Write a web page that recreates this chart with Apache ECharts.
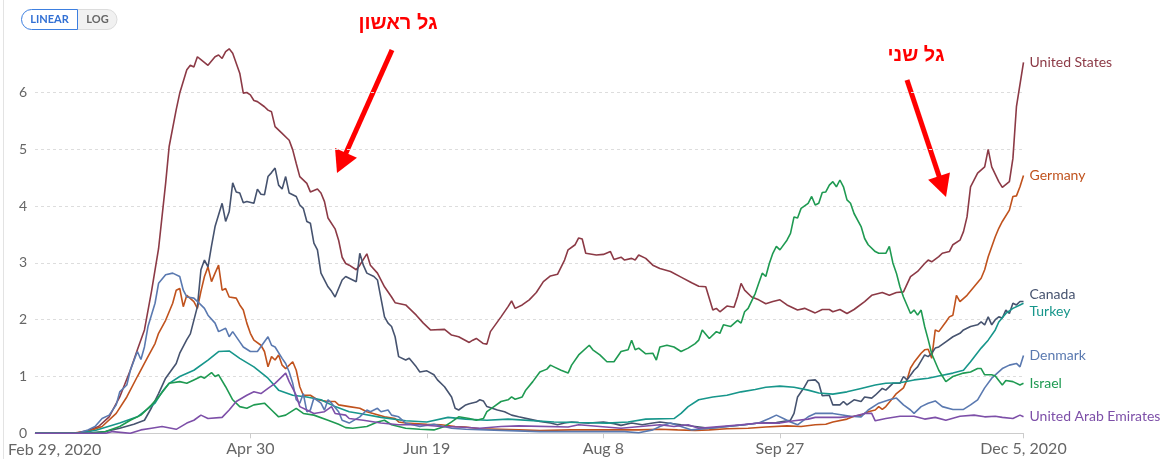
<!DOCTYPE html>
<html><head><meta charset="utf-8">
<script src="https://cdn.jsdelivr.net/npm/echarts@6/dist/echarts.min.js"></script>
<style>html,body{margin:0;padding:0;background:#fff}#c{width:1168px;height:459px}</style>
</head><body><div id="c"></div>
<script>
// ---- data (daily new deaths per million, 7-day avg), dates as MM-DD in 2020 ----
const countryNames = ['United States','Germany','Canada','Turkey','Denmark','Israel','United Arab Emirates'];
const countryColors = ['#8C3A46','#C0521D','#46536F','#17968B','#5A79B0','#1F9A52','#7D4FA8'];

const unitedStates = [['02-29',0],['03-10',0],['03-12',0.01],['03-15',0.05],['03-18',0.12],['03-21',0.29],['03-24',0.64],['03-27',1.11],['03-29',1.47],['03-31',1.82],['04-02',2.5],['04-04',3.25],['04-06',4.4],['04-07',5.05],['04-09',5.7],['04-10',5.99],['04-12',6.4],['04-13',6.48],['04-14',6.45],['04-15',6.63],['04-16',6.58],['04-18',6.48],['04-20',6.63],['04-21',6.66],['04-22',6.6],['04-23',6.72],['04-24',6.77],['04-25',6.69],['04-27',6.34],['04-28',5.99],['04-29',6.0],['04-30',5.96],['05-01',5.86],['05-02',5.84],['05-04',5.75],['05-05',5.69],['05-06',5.66],['05-07',5.4],['05-09',5.28],['05-11',5.16],['05-12',4.99],['05-13',4.75],['05-14',4.52],['05-16',4.4],['05-17',4.25],['05-19',4.3],['05-20',4.23],['05-21',4.08],['05-22',3.79],['05-24',3.6],['05-25',3.4],['05-26',3.1],['05-27',2.99],['05-28',2.96],['05-30',2.88],['05-31',2.96],['06-02',3.16],['06-03',2.96],['06-05',2.82],['06-07',2.58],['06-09',2.4],['06-10',2.3],['06-13',2.26],['06-16',2.08],['06-18',1.94],['06-20',1.82],['06-24',1.83],['06-26',1.73],['06-28',1.7],['07-01',1.6],['07-02',1.64],['07-03',1.67],['07-05',1.58],['07-06',1.57],['07-07',1.79],['07-10',2.05],['07-12',2.23],['07-13',2.33],['07-14',2.2],['07-16',2.26],['07-18',2.35],['07-20',2.48],['07-22',2.67],['07-24',2.77],['07-26',2.8],['07-28',3.05],['07-29',3.23],['07-31',3.32],['08-01',3.44],['08-02',3.42],['08-03',3.17],['08-06',3.14],['08-08',3.15],['08-10',3.2],['08-11',3.06],['08-13',3.1],['08-14',3.05],['08-16',3.08],['08-17',3.05],['08-18',3.14],['08-20',3.08],['08-22',2.96],['08-24',2.9],['08-27',2.85],['08-30',2.75],['09-02',2.65],['09-04',2.59],['09-06',2.58],['09-08',2.17],['09-09',2.2],['09-10',2.14],['09-12',2.24],['09-14',2.22],['09-15',2.41],['09-16',2.64],['09-17',2.52],['09-19',2.4],['09-21',2.35],['09-23',2.28],['09-25',2.32],['09-27',2.35],['09-29',2.26],['10-02',2.17],['10-04',2.2],['10-07',2.12],['10-09',2.18],['10-11',2.18],['10-12',2.14],['10-14',2.18],['10-16',2.11],['10-18',2.18],['10-21',2.32],['10-23',2.43],['10-26',2.48],['10-28',2.43],['10-30',2.48],['11-01',2.49],['11-03',2.76],['11-05',2.85],['11-07',2.99],['11-08',3.05],['11-09',3.02],['11-11',3.11],['11-12',3.17],['11-14',3.2],['11-15',3.32],['11-17',3.4],['11-18',3.55],['11-19',3.81],['11-20',4.34],['11-22',4.58],['11-24',4.69],['11-25',5.0],['11-26',4.69],['11-28',4.43],['11-29',4.33],['12-01',4.43],['12-02',4.84],['12-03',5.75],['12-05',6.53]];

const germany = [['02-29',0],['03-10',0],['03-15',0.03],['03-19',0.12],['03-23',0.35],['03-26',0.64],['03-29',1.0],['04-01',1.35],['04-03',1.58],['04-04',1.76],['04-06',1.99],['04-08',2.29],['04-09',2.52],['04-10',2.55],['04-11',2.23],['04-12',2.43],['04-14',2.32],['04-15',2.2],['04-16',2.5],['04-17',2.76],['04-18',2.93],['04-19',2.67],['04-20',2.82],['04-21',2.96],['04-22',2.52],['04-23',2.55],['04-24',2.4],['04-26',2.38],['04-27',2.26],['04-28',2.17],['04-29',1.94],['04-30',1.76],['05-01',1.64],['05-03',1.55],['05-04',1.44],['05-05',1.17],['05-06',1.35],['05-07',1.29],['05-08',1.38],['05-09',1.2],['05-10',1.14],['05-12',1.26],['05-13',1.11],['05-14',0.82],['05-15',0.67],['05-17',0.67],['05-19',0.59],['05-22',0.56],['05-24',0.56],['05-25',0.5],['05-28',0.47],['05-31',0.44],['06-02',0.38],['06-07',0.29],['06-10',0.26],['06-11',0.2],['06-13',0.18],['06-19',0.16],['06-23',0.15],['06-27',0.12],['06-30',0.11],['07-04',0.08],['07-15',0.06],['07-21',0.05],['07-30',0.06],['08-18',0.06],['08-24',0.07],['08-29',0.06],['09-03',0.05],['09-07',0.06],['09-12',0.08],['09-18',0.09],['09-23',0.11],['09-29',0.13],['10-03',0.12],['10-07',0.15],['10-10',0.16],['10-12',0.2],['10-16',0.25],['10-18',0.3],['10-20',0.32],['10-22',0.38],['10-24',0.41],['10-25',0.47],['10-26',0.42],['10-27',0.47],['10-29',0.62],['10-30',0.7],['11-01',0.8],['11-02',0.94],['11-03',1.15],['11-04',1.25],['11-06',1.41],['11-07',1.47],['11-08',1.48],['11-09',1.32],['11-10',1.82],['11-11',1.79],['11-13',1.96],['11-14',2.05],['11-15',2.08],['11-16',2.43],['11-17',2.32],['11-19',2.43],['11-21',2.58],['11-23',2.73],['11-24',2.88],['11-25',3.11],['11-27',3.46],['11-28',3.61],['11-29',3.73],['12-01',3.93],['12-02',4.17],['12-03',4.18],['12-04',4.34],['12-05',4.54]];

const canada = [['02-29',0],['03-15',0],['03-20',0.03],['03-24',0.09],['03-28',0.16],['03-31',0.23],['04-02',0.45],['04-04',0.7],['04-06',0.97],['04-09',1.23],['04-10',1.41],['04-12',1.65],['04-13',1.75],['04-15',2.23],['04-16',2.88],['04-17',3.05],['04-18',2.93],['04-19',3.3],['04-20',3.64],['04-22',4.05],['04-23',3.73],['04-24',3.9],['04-25',4.41],['04-26',4.25],['04-27',4.23],['04-28',4.06],['04-29',4.08],['05-01',4.05],['05-02',4.3],['05-03',4.21],['05-04',4.2],['05-05',4.52],['05-06',4.59],['05-07',4.67],['05-08',4.37],['05-09',4.3],['05-10',4.52],['05-11',4.23],['05-13',4.17],['05-14',4.02],['05-15',3.96],['05-16',3.73],['05-17',3.7],['05-18',3.35],['05-19',3.23],['05-20',2.82],['05-22',2.58],['05-23',2.5],['05-24',2.4],['05-26',2.7],['05-27',2.76],['05-30',2.67],['05-31',3.17],['06-01',2.96],['06-02',2.82],['06-04',2.76],['06-05',2.7],['06-07',2.05],['06-08',1.94],['06-09',1.88],['06-10',1.7],['06-11',1.35],['06-13',1.29],['06-14',1.32],['06-16',1.17],['06-17',1.08],['06-19',1.1],['06-21',1.03],['06-22',0.94],['06-24',0.82],['06-26',0.64],['06-27',0.44],['06-28',0.41],['06-30',0.5],['07-01',0.52],['07-03',0.55],['07-04',0.59],['07-05',0.57],['07-06',0.47],['07-09',0.41],['07-11',0.38],['07-13',0.32],['07-15',0.29],['07-18',0.25],['07-21',0.21],['07-24',0.18],['07-26',0.15],['07-28',0.18],['07-30',0.2],['08-01',0.19],['08-04',0.18],['08-08',0.2],['08-11',0.17],['08-13',0.14],['08-16',0.18],['08-19',0.15],['08-22',0.18],['08-24',0.2],['08-30',0.15],['09-03',0.12],['09-07',0.09],['09-12',0.12],['09-17',0.15],['09-21',0.18],['09-26',0.19],['09-30',0.23],['10-01',0.35],['10-02',0.64],['10-04',0.82],['10-05',0.93],['10-07',0.94],['10-08',0.88],['10-09',0.66],['10-11',0.67],['10-12',0.5],['10-14',0.5],['10-15',0.56],['10-16',0.5],['10-18',0.59],['10-20',0.56],['10-21',0.64],['10-23',0.62],['10-24',0.67],['10-26',0.79],['10-27',0.76],['10-29',0.88],['10-31',0.88],['11-01',1.0],['11-02',0.94],['11-04',1.11],['11-05',1.17],['11-07',1.38],['11-08',1.35],['11-09',1.41],['11-10',1.5],['11-11',1.52],['11-13',1.61],['11-15',1.7],['11-17',1.76],['11-18',1.82],['11-20',1.88],['11-22',1.91],['11-23',1.96],['11-24',1.91],['11-25',2.05],['11-26',1.91],['11-27',2.0],['11-28',2.05],['11-29',2.03],['11-30',2.17],['12-01',2.11],['12-02',2.29],['12-03',2.26],['12-04',2.32],['12-05',2.32]];

const turkey = [['02-29',0],['03-12',0],['03-17',0.05],['03-24',0.18],['03-29',0.29],['04-03',0.53],['04-05',0.73],['04-07',0.88],['04-10',1.0],['04-14',1.11],['04-18',1.29],['04-21',1.44],['04-24',1.45],['04-27',1.32],['05-01',1.17],['05-05',0.97],['05-08',0.76],['05-12',0.67],['05-16',0.64],['05-20',0.59],['05-24',0.47],['05-28',0.38],['05-31',0.35],['06-06',0.28],['06-13',0.22],['06-19',0.2],['06-25',0.28],['06-30',0.25],['07-06',0.23],['07-12',0.25],['07-25',0.2],['08-01',0.19],['08-09',0.18],['08-15',0.2],['08-20',0.25],['08-28',0.26],['08-30',0.35],['09-01',0.47],['09-04',0.59],['09-08',0.64],['09-12',0.67],['09-16',0.73],['09-20',0.77],['09-23',0.81],['09-27',0.83],['10-01',0.81],['10-05',0.76],['10-08',0.71],['10-12',0.69],['10-16',0.73],['10-20',0.79],['10-24',0.85],['10-27',0.88],['10-31',0.89],['11-04',0.94],['11-08',0.97],['11-11',1.01],['11-15',1.06],['11-18',1.11],['11-20',1.26],['11-23',1.5],['11-25',1.64],['11-27',1.82],['11-28',1.96],['11-30',2.11],['12-02',2.2],['12-04',2.26],['12-05',2.29]];

const denmark = [['02-29',0],['03-12',0],['03-15',0.06],['03-17',0.12],['03-19',0.26],['03-21',0.32],['03-23',0.5],['03-24',0.73],['03-26',0.85],['03-27',1.11],['03-29',1.44],['03-30',1.3],['03-31',1.52],['04-01',1.88],['04-03',2.29],['04-04',2.64],['04-06',2.79],['04-08',2.82],['04-10',2.76],['04-11',2.52],['04-12',2.4],['04-14',2.38],['04-16',2.26],['04-17',2.2],['04-18',2.08],['04-20',1.94],['04-21',1.79],['04-23',1.85],['04-24',1.7],['04-25',1.79],['04-27',1.61],['04-28',1.52],['04-30',1.44],['05-02',1.44],['05-05',1.7],['05-06',1.55],['05-07',1.52],['05-09',1.32],['05-10',1.23],['05-11',1.08],['05-12',0.88],['05-13',0.59],['05-14',0.53],['05-15',0.7],['05-16',0.38],['05-17',0.41],['05-18',0.62],['05-20',0.53],['05-21',0.41],['05-22',0.59],['05-23',0.53],['05-25',0.38],['05-26',0.23],['05-28',0.18],['05-31',0.29],['06-02',0.41],['06-03',0.38],['06-05',0.44],['06-06',0.38],['06-08',0.41],['06-09',0.32],['06-11',0.29],['06-13',0.18],['06-17',0.12],['06-21',0.16],['06-26',0.09],['06-30',0.07],['07-06',0.06],['07-21',0.03],['07-27',0.03],['08-14',0.03],['08-18',0.01],['08-22',0.06],['08-24',0.12],['08-27',0.18],['09-02',0.06],['09-07',0.09],['09-12',0.12],['09-17',0.15],['09-21',0.18],['09-24',0.26],['09-26',0.32],['09-28',0.26],['09-30',0.2],['10-02',0.15],['10-05',0.29],['10-07',0.35],['10-12',0.35],['10-17',0.3],['10-20',0.29],['10-22',0.41],['10-25',0.53],['10-28',0.59],['10-30',0.62],['11-01',0.5],['11-03',0.41],['11-04',0.35],['11-06',0.47],['11-08',0.53],['11-10',0.57],['11-12',0.47],['11-15',0.42],['11-18',0.42],['11-20',0.5],['11-22',0.59],['11-24',0.8],['11-26',0.97],['11-29',1.14],['12-01',1.2],['12-03',1.23],['12-04',1.17],['12-05',1.37]];

const israel = [['02-29',0],['03-15',0],['03-20',0.03],['03-24',0.12],['03-27',0.23],['03-30',0.32],['04-02',0.5],['04-04',0.64],['04-07',0.88],['04-10',0.91],['04-12',0.88],['04-14',0.94],['04-16',1.0],['04-17',0.97],['04-19',1.07],['04-20',1.0],['04-21',1.03],['04-23',0.82],['04-25',0.59],['04-27',0.47],['04-29',0.44],['05-01',0.5],['05-04',0.53],['05-06',0.41],['05-08',0.29],['05-10',0.32],['05-13',0.44],['05-15',0.35],['05-18',0.32],['05-22',0.23],['05-25',0.16],['05-27',0.1],['05-29',0.09],['06-02',0.12],['06-05',0.2],['06-07',0.23],['06-09',0.15],['06-13',0.09],['06-17',0.07],['06-21',0.06],['06-24',0.12],['06-26',0.2],['06-28',0.29],['07-01',0.26],['07-03',0.23],['07-05',0.26],['07-06',0.38],['07-08',0.47],['07-10',0.56],['07-12',0.59],['07-13',0.64],['07-14',0.6],['07-16',0.64],['07-17',0.76],['07-19',0.91],['07-21',1.08],['07-23',1.13],['07-24',1.2],['07-25',1.17],['07-27',1.11],['07-29',1.06],['07-30',1.2],['08-01',1.38],['08-04',1.55],['08-05',1.47],['08-07',1.38],['08-09',1.26],['08-11',1.26],['08-13',1.44],['08-15',1.47],['08-16',1.64],['08-17',1.47],['08-18',1.5],['08-20',1.4],['08-22',1.41],['08-23',1.29],['08-24',1.52],['08-26',1.55],['08-28',1.52],['08-30',1.44],['09-01',1.5],['09-03',1.58],['09-04',1.64],['09-05',1.82],['09-07',1.67],['09-09',1.79],['09-10',1.76],['09-11',1.91],['09-13',1.88],['09-15',1.99],['09-16',1.94],['09-17',2.14],['09-18',2.2],['09-20',2.46],['09-21',2.64],['09-22',2.82],['09-23',2.76],['09-24',2.99],['09-25',3.17],['09-26',3.29],['09-27',3.23],['09-29',3.4],['09-30',3.52],['10-01',3.81],['10-02',3.79],['10-03',3.96],['10-05',4.05],['10-06',4.17],['10-07',4.02],['10-08',4.05],['10-09',4.24],['10-10',4.25],['10-11',4.37],['10-12',4.43],['10-13',4.34],['10-14',4.46],['10-15',4.34],['10-16',4.11],['10-17',4.05],['10-18',3.87],['10-20',3.64],['10-21',3.43],['10-22',3.32],['10-24',3.2],['10-25',3.17],['10-27',3.17],['10-28',3.29],['10-29',3.0],['10-30',2.82],['10-31',2.58],['11-01',2.4],['11-03',2.11],['11-04',2.17],['11-05',2.08],['11-06',2.17],['11-07',1.88],['11-08',1.65],['11-09',1.4],['11-11',1.11],['11-13',0.91],['11-15',1.0],['11-18',1.06],['11-20',1.08],['11-22',1.14],['11-23',1.14],['11-24',1.03],['11-26',1.03],['11-27',1.01],['11-29',0.85],['11-30',0.93],['12-02',0.91],['12-04',0.85],['12-05',0.88]];

const unitedArabEmirates = [['02-29',0],['03-20',0],['03-22',0.03],['03-27',0],['03-30',0.06],['04-02',0.09],['04-05',0.12],['04-09',0.07],['04-12',0.18],['04-14',0.23],['04-16',0.32],['04-18',0.26],['04-22',0.28],['04-24',0.41],['04-26',0.56],['04-29',0.67],['05-01',0.73],['05-03',0.7],['05-05',0.79],['05-07',0.88],['05-10',1.06],['05-11',0.91],['05-13',0.67],['05-14',0.47],['05-16',0.41],['05-18',0.35],['05-21',0.38],['05-23',0.47],['05-24',0.35],['05-27',0.32],['05-28',0.26],['06-01',0.23],['06-06',0.18],['06-11',0.15],['06-17',0.15],['06-23',0.12],['06-28',0.11],['07-04',0.09],['07-10',0.12],['07-15',0.13],['07-29',0.11],['08-01',0.15],['08-07',0.12],['08-13',0.09],['08-24',0.15],['08-28',0.12],['09-01',0.15],['09-04',0.09],['09-10',0.12],['09-16',0.15],['09-21',0.18],['09-27',0.18],['10-01',0.22],['10-05',0.25],['10-07',0.28],['10-10',0.28],['10-14',0.28],['10-18',0.3],['10-21',0.35],['10-23',0.35],['10-24',0.22],['10-27',0.26],['10-31',0.3],['11-04',0.3],['11-07',0.25],['11-10',0.28],['11-13',0.23],['11-17',0.3],['11-21',0.32],['11-24',0.29],['11-27',0.3],['11-29',0.28],['12-02',0.26],['12-04',0.32],['12-05',0.29]];

const countryData = [unitedStates, germany, canada, turkey, denmark, israel, unitedArabEmirates];
const labelShiftY = [0, 0, -7, 8, 0, 0, 0];

const xTickDates = ['2020-02-29','2020-04-30','2020-06-19','2020-08-08','2020-09-27','2020-12-05'];
const xTickLabels = ['Feb 29, 2020','Apr 30','Jun 19','Aug 8','Sep 27','Dec 5, 2020'];
const yTicks = [0,1,2,3,4,5,6];
const yMax = 6.77;

const annotationTexts = ['גל ראשון','גל שני'];

// ---- build ----
function ts(s){ const p=s.split('-').map(Number); return Date.UTC(p[0],p[1]-1,p[2]); }
const tickTs = xTickDates.map(ts);
const FONT = 'Lato, "Noto Sans", sans-serif';

const series = countryNames.map((name,i)=>({
  name, type:'line', showSymbol:false, symbol:'none', smooth:false, animation:false,
  data: countryData[i].map(d=>[ts('2020-'+d[0]), d[1]]),
  lineStyle:{color:countryColors[i], width:1.6},
  itemStyle:{color:countryColors[i]},
  emphasis:{disabled:true},
  endLabel:{show:true, formatter:'{a}', color:countryColors[i], fontSize:14, fontFamily:FONT, distance:6, offset:[0,labelShiftY[i]]}
}));

function arrow(x1,y1,x2,y2,headLen,halfW,w){
  const dx=x2-x1, dy=y2-y1, L=Math.hypot(dx,dy), ux=dx/L, uy=dy/L, px=-uy, py=ux;
  const bx=x2-ux*headLen, by=y2-uy*headLen;
  return [
    {type:'line', shape:{x1,y1,x2:bx+ux*2,y2:by+uy*2}, style:{stroke:'#FF0000', lineWidth:w}, silent:true},
    {type:'polygon', shape:{points:[[x2,y2],[bx+px*halfW,by+py*halfW],[bx-px*halfW,by-py*halfW]]}, style:{fill:'#FF0000'}, silent:true}
  ];
}

const graphic = [
  {type:'line', shape:{x1:3.5,y1:0,x2:3.5,y2:459}, style:{stroke:'#e3e3e3', lineWidth:1}, silent:true},
  {type:'rect', shape:{x:77,y:9.5,width:40,height:20,r:[0,10,10,0]}, style:{fill:'#f1f1f1', stroke:'#dcdcdc', lineWidth:1}, silent:true},
  {type:'rect', shape:{x:21.5,y:9.5,width:56,height:20,r:[10,0,0,10]}, style:{fill:'#ffffff', stroke:'#3d7fe0', lineWidth:1}, silent:true},
  {type:'text', x:49.5, y:19.5, style:{text:'LINEAR', fill:'#3270d4', font:'bold 11px '+FONT, align:'center', verticalAlign:'middle'}, silent:true},
  {type:'text', x:97.5, y:19.5, style:{text:'LOG', fill:'#666666', font:'bold 11px '+FONT, align:'center', verticalAlign:'middle'}, silent:true},
  {type:'text', x:8, y:450, style:{text:xTickLabels[0], fill:'#666666', font:'16px '+FONT, align:'left', verticalAlign:'middle'}, silent:true},
  {type:'text', x:398, y:23, style:{text:annotationTexts[0], fill:'#FF0000', font:'bold 20px "Liberation Sans", "DejaVu Sans", sans-serif', align:'center', verticalAlign:'middle'}, silent:true},
  {type:'text', x:916, y:55, style:{text:annotationTexts[1], fill:'#FF0000', font:'bold 20px "Liberation Sans", "DejaVu Sans", sans-serif', align:'center', verticalAlign:'middle'}, silent:true},
  ...arrow(392,50,337,173,22,12,5),
  ...arrow(907,80,946,197,22,11.5,5)
];

function labelFor(v){
  for(let k=1;k<tickTs.length;k++){ if(Math.abs(tickTs[k]-v)<3600000) return xTickLabels[k]; }
  return '';
}

const chart = echarts.init(document.getElementById('c'), null, {renderer:'canvas'});
chart.setOption({
  animation:false,
  backgroundColor:'#ffffff',
  grid:{left:35, right:144.5, top:48.8, bottom:25.7, containLabel:false},
  xAxis:{
    type:'value', min:tickTs[0], max:tickTs[tickTs.length-1], scale:true,
    axisLine:{show:true, onZero:false, lineStyle:{color:'#cccccc', width:1}},
    axisTick:{show:true, length:5, lineStyle:{color:'#cccccc'}, customValues:tickTs.slice(1)},
    splitLine:{show:false},
    axisLabel:{customValues:tickTs.slice(1), color:'#666666', fontSize:16, fontFamily:FONT, margin:8, showMaxLabel:true, formatter:labelFor}
  },
  yAxis:{
    type:'value', min:0, max:yMax, interval:1,
    axisLine:{show:false}, axisTick:{show:false},
    axisLabel:{color:'#666666', fontSize:14, fontFamily:FONT, margin:8, showMaxLabel:false, showMinLabel:true,
      formatter:function(v){ return yTicks.indexOf(v)>=0 ? String(v) : ''; }},
    splitLine:{show:true, showMinLine:false, showMaxLine:false, lineStyle:{color:'#dddddd', type:[3,3], width:1}}
  },
  series,
  graphic
});
</script>
</body></html>
